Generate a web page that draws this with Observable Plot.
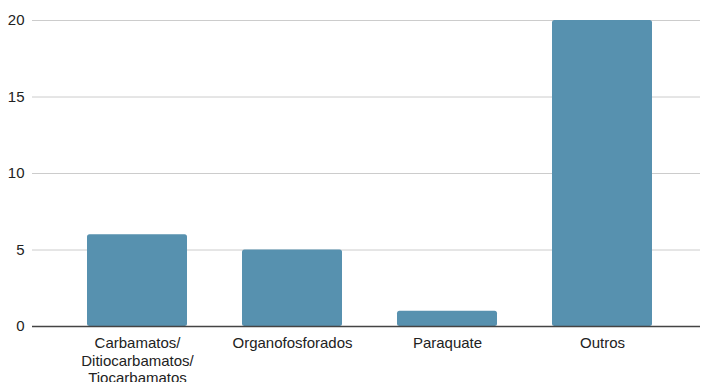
<!DOCTYPE html>
<html>
<head>
<meta charset="utf-8">
<script src="https://cdn.jsdelivr.net/npm/d3@7"></script>
<script src="https://cdn.jsdelivr.net/npm/@observablehq/plot@0.6"></script>
<style>
  html, body { margin: 0; padding: 0; background: #fff; }
  #chart svg { display: block; }
</style>
</head>
<body>
<div id="chart"></div>
<script>
const categories = ["Carbamatos/\nDitiocarbamatos/\nTiocarbamatos", "Organofosforados", "Paraquate", "Outros"];
const values = [6, 5, 1, 20];
const yTicks = [0, 5, 10, 15, 20];

const data = categories.map((c, i) => ({category: c, value: values[i]}));

const chart = Plot.plot({
  width: 702,
  height: 382,
  marginTop: 20,
  marginBottom: 56,
  marginLeft: 32,
  marginRight: 2,
  style: {fontFamily: "'Liberation Sans', Arial, sans-serif", fontSize: "15px", color: "#222", background: "#fff"},
  x: {domain: categories, paddingInner: 0.355, paddingOuter: 0.3225, align: 0.53, label: null, tickSize: 0, tickPadding: 9},
  y: {domain: [0, 20], ticks: yTicks, label: null, tickSize: 0, tickPadding: 8, grid: false},
  marks: [
    Plot.ruleY(yTicks.filter(d => d > 0), {stroke: "#cccccc", strokeWidth: 1}),
    Plot.barY(data, {x: "category", y: "value", fill: "#5791af", rx: 2.5}),
    Plot.ruleY([0], {stroke: "#444", strokeWidth: 1.5}),
    Plot.axisY({ticks: yTicks, tickSize: 0, tickPadding: 8, fontSize: 15, fill: "#222"}),
    Plot.axisX({tickSize: 0, tickPadding: 9, fontSize: 15, fill: "#222", lineHeight: 1.17})
  ]
});
document.getElementById("chart").appendChild(chart);
</script>
</body>
</html>
